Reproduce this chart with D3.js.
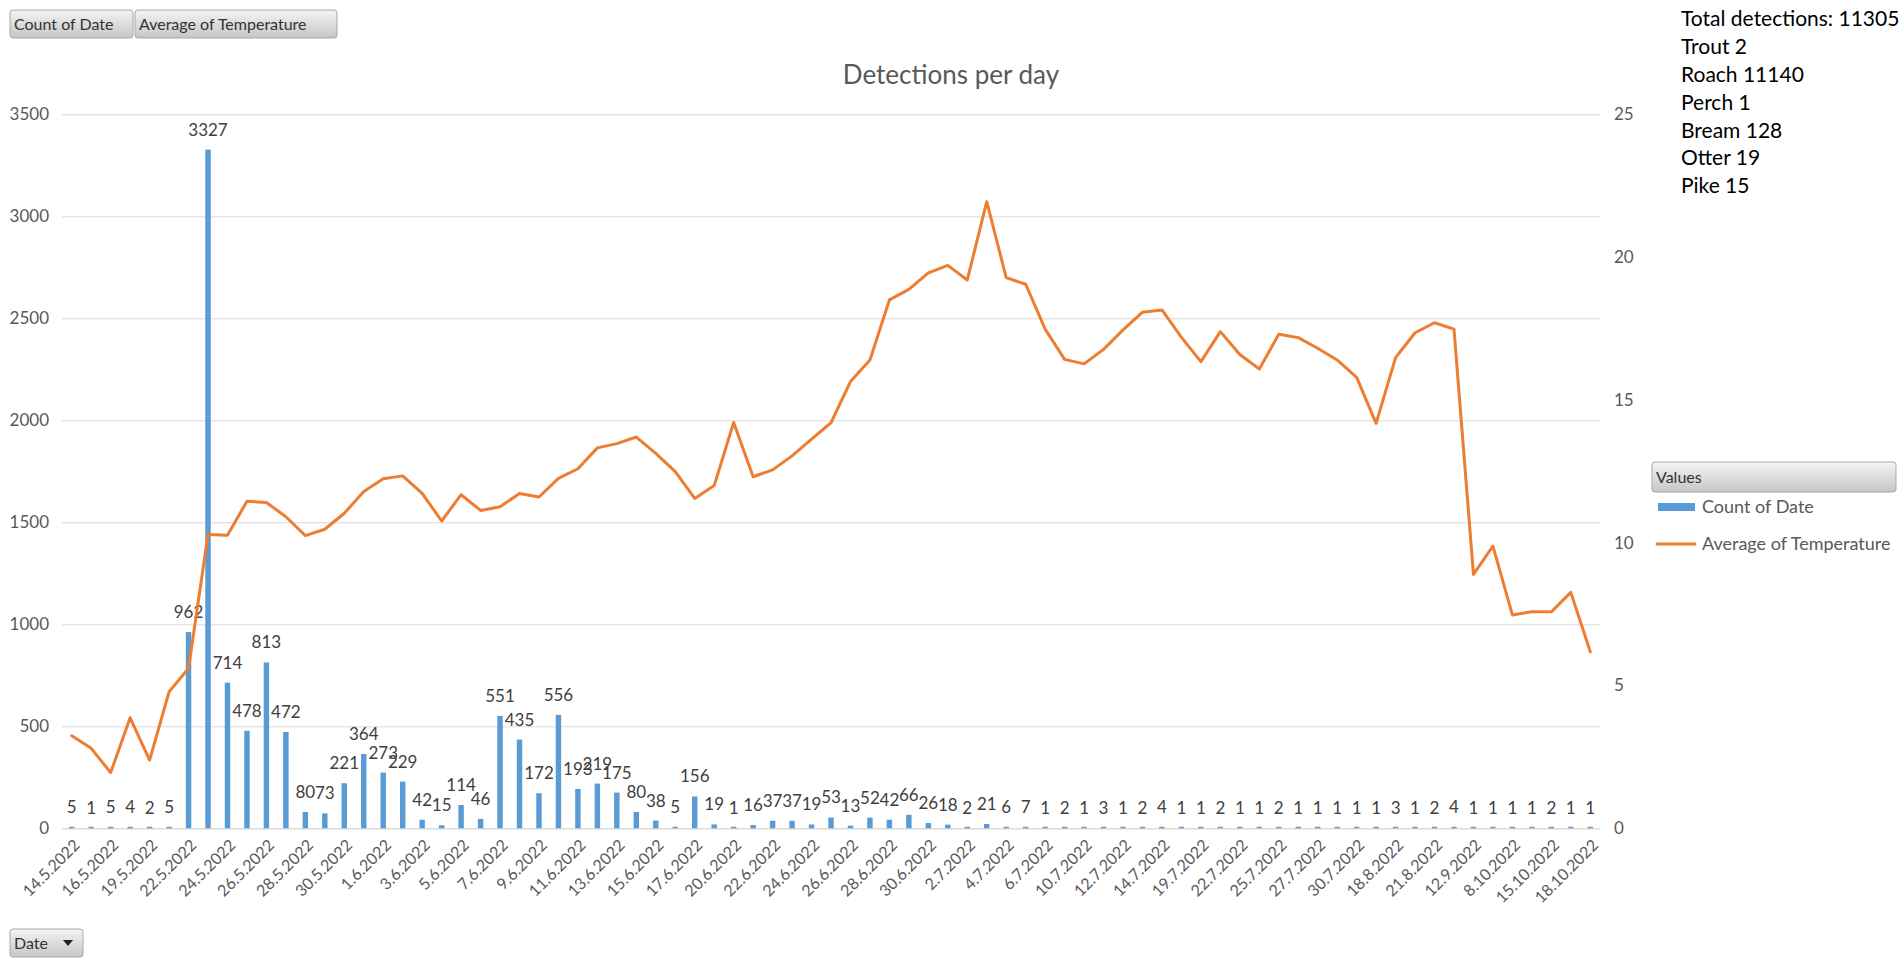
<!DOCTYPE html>
<html>
<head>
<meta charset="utf-8">
<script src="https://cdn.jsdelivr.net/npm/d3@7"></script>
<style>
  html, body { margin: 0; padding: 0; background: #fff; }
  svg { display: block; font-family: Lato, "Open Sans", sans-serif; }
</style>
</head>
<body>
<svg id="chart" width="1903" height="967"></svg>
<script>
// ---------- DATA ----------
const dates = [
  "14.5.2022","15.5.2022","16.5.2022","17.5.2022","19.5.2022","20.5.2022","22.5.2022","23.5.2022",
  "24.5.2022","25.5.2022","26.5.2022","27.5.2022","28.5.2022","29.5.2022","30.5.2022","31.5.2022",
  "1.6.2022","2.6.2022","3.6.2022","4.6.2022","5.6.2022","6.6.2022","7.6.2022","8.6.2022",
  "9.6.2022","10.6.2022","11.6.2022","12.6.2022","13.6.2022","14.6.2022","15.6.2022","16.6.2022",
  "17.6.2022","19.6.2022","20.6.2022","21.6.2022","22.6.2022","23.6.2022","24.6.2022","25.6.2022",
  "26.6.2022","27.6.2022","28.6.2022","29.6.2022","30.6.2022","1.7.2022","2.7.2022","3.7.2022",
  "4.7.2022","5.7.2022","6.7.2022","8.7.2022","10.7.2022","11.7.2022","12.7.2022","13.7.2022",
  "14.7.2022","16.7.2022","19.7.2022","20.7.2022","22.7.2022","24.7.2022","25.7.2022","26.7.2022",
  "27.7.2022","29.7.2022","30.7.2022","5.8.2022","18.8.2022","20.8.2022","21.8.2022","26.8.2022",
  "12.9.2022","20.9.2022","8.10.2022","12.10.2022","15.10.2022","17.10.2022","18.10.2022"
];
const countOfDate = [
  5,1,5,4,2,5,962,3327,714,478,813,472,80,73,221,364,273,229,42,15,114,46,551,435,
  172,556,193,219,175,80,38,5,156,19,1,16,37,37,19,53,13,52,42,66,26,18,2,21,
  6,7,1,2,1,3,1,2,4,1,1,2,1,1,2,1,1,1,1,1,3,1,2,4,1,1,1,1,2,1,1
];
const avgTemperature = [
  3.24,2.80,1.95,3.87,2.39,4.78,5.60,10.29,10.26,11.45,11.41,10.91,10.25,10.47,11.03,11.79,
  12.24,12.34,11.73,10.76,11.68,11.13,11.26,11.72,11.60,12.25,12.59,13.32,13.47,13.70,13.13,12.49,
  11.55,12.00,14.21,12.31,12.55,13.04,13.63,14.20,15.64,16.40,18.50,18.87,19.45,19.71,19.20,21.94,
  19.28,19.05,17.48,16.42,16.26,16.77,17.45,18.07,18.15,17.19,16.34,17.39,16.59,16.08,17.30,17.18,
  16.81,16.40,15.79,14.18,16.48,17.35,17.70,17.48,8.89,9.88,7.47,7.58,7.58,8.26,6.18
];
const leftTicks = [0,500,1000,1500,2000,2500,3000,3500];
const rightTicks = [0,5,10,15,20,25];
const xTickLabels = dates.filter((d, i) => i % 2 === 0);
const speciesNames = ["Trout","Roach","Perch","Bream","Otter","Pike"];
const speciesCounts = [2,11140,1,128,19,15];
const seriesNames = ["Count of Date","Average of Temperature"];

// ---------- LAYOUT ----------
const svg = d3.select("#chart");
const L = 62, R = 1600, T = 114.3, B = 828.3;
const barColor = "#5b9bd5", lineColor = "#ed7d31", textColor = "#595959";

const x = d3.scaleBand().domain(dates).range([L, R]).paddingInner(0.72).paddingOuter(0.36);
const yL = d3.scaleLinear().domain([0, 3500]).range([B, T]);
const yR = d3.scaleLinear().domain([0, 25]).range([B, T]);

// gradient for buttons
const defs = svg.append("defs");
const grad = defs.append("linearGradient").attr("id","btn").attr("x1",0).attr("y1",0).attr("x2",0).attr("y2",1);
grad.append("stop").attr("offset","0%").attr("stop-color","#f4f4f4");
grad.append("stop").attr("offset","100%").attr("stop-color","#c6c6c6");

function button(x0, y0, w, h, label, fs) {
  const g = svg.append("g");
  g.append("rect").attr("x", x0).attr("y", y0).attr("width", w).attr("height", h)
    .attr("rx", 3).attr("fill", "url(#btn)").attr("stroke", "#a8a8a8").attr("stroke-width", 1);
  g.append("text").attr("x", x0 + 4).attr("y", y0 + h / 2).attr("dy", "0.35em")
    .attr("fill", "#333").attr("font-size", fs).text(label);
  return g;
}

// gridlines + left axis
const gL = svg.append("g").attr("transform", `translate(${L},0)`)
  .call(d3.axisLeft(yL).tickValues(leftTicks).tickFormat(d3.format("d")).tickSize(-(R - L)).tickPadding(13));
gL.select(".domain").remove();
gL.selectAll(".tick line").attr("stroke", "#d9d9d9").attr("stroke-width", 1);
gL.selectAll(".tick text").attr("fill", textColor).attr("font-size", 17).attr("font-family", "Lato");

// right axis
const gR = svg.append("g").attr("transform", `translate(${R},0)`)
  .call(d3.axisRight(yR).tickValues(rightTicks).tickSize(0).tickPadding(14));
gR.select(".domain").remove();
gR.selectAll(".tick text").attr("fill", textColor).attr("font-size", 17).attr("font-family", "Lato");

// bottom axis
const gB = svg.append("g").attr("transform", `translate(0,${B})`)
  .call(d3.axisBottom(x).tickValues(xTickLabels).tickSize(0));
gB.select(".domain").attr("stroke", "#d9d9d9");
gB.selectAll(".tick text")
  .attr("fill", textColor).attr("font-size", 16).attr("font-family", "Lato")
  .attr("text-anchor", "end")
  .attr("transform", "translate(5,14) rotate(-45)")
  .attr("x", 0).attr("y", 0).attr("dy", "0.35em");

// bars (tiny values get a hairline minimum so they stay visible, as in the original)
svg.append("g").selectAll("rect").data(countOfDate).join("rect")
  .attr("x", (d, i) => x(dates[i]))
  .attr("width", x.bandwidth())
  .attr("y", d => Math.min(yL(d), B - 1.5))
  .attr("height", d => Math.max(B - yL(d), 1.5))
  .attr("fill", barColor);

// bar labels
svg.append("g").selectAll("text").data(countOfDate).join("text")
  .attr("x", (d, i) => x(dates[i]) + x.bandwidth() / 2)
  .attr("y", d => yL(d) - 14)
  .attr("text-anchor", "middle")
  .attr("fill", "#404040").attr("font-size", 17).attr("font-family", "Lato")
  .text(d => d);

// temperature line
const line = d3.line()
  .x((d, i) => x(dates[i]) + x.bandwidth() / 2)
  .y(d => yR(d));
svg.append("path").datum(avgTemperature)
  .attr("d", line).attr("fill", "none").attr("stroke", lineColor)
  .attr("stroke-width", 3).attr("stroke-linejoin", "round").attr("stroke-linecap", "round");

// title
svg.append("text").attr("x", 951).attr("y", 75).attr("dy", "0.35em")
  .attr("text-anchor", "middle").attr("fill", textColor).attr("font-size", 26)
  .text("Detections per day");

// top-left field buttons
button(10, 10, 123, 28, seriesNames[0], 16);
button(135, 10, 202, 28, seriesNames[1], 16);

// bottom-left "Date" button
const db = button(10, 929, 73, 28, "Date", 16);
db.append("path").attr("d", "M63,940 L73,940 L68,946 Z").attr("fill", "#222");

// annotation text (top right)
const annLines = [`Total detections: ${d3.sum(countOfDate)}`]
  .concat(speciesNames.map((n, i) => `${n} ${speciesCounts[i]}`));
svg.append("g").selectAll("text").data(annLines).join("text")
  .attr("x", 1681).attr("y", (d, i) => 19 + i * 27.8).attr("dy", "0.35em")
  .attr("fill", "#000").attr("font-size", 21).text(d => d);

// legend
button(1652, 462, 244, 30, "Values", 16);
const lg = svg.append("g");
lg.append("rect").attr("x", 1658).attr("y", 503).attr("width", 37).attr("height", 8).attr("fill", barColor);
lg.append("line").attr("x1", 1657).attr("x2", 1695).attr("y1", 544).attr("y2", 544)
  .attr("stroke", lineColor).attr("stroke-width", 3).attr("stroke-linecap", "round");
lg.selectAll("text").data(seriesNames).join("text")
  .attr("x", 1702).attr("y", (d, i) => 507 + i * 37).attr("dy", "0.35em")
  .attr("fill", textColor).attr("font-size", 18).text(d => d);
</script>
</body>
</html>
